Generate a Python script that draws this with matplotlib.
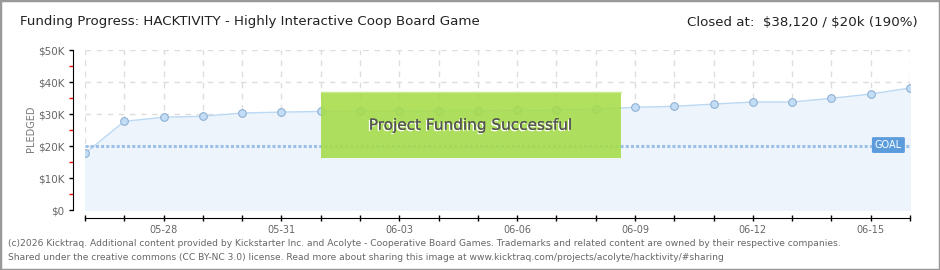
import matplotlib
matplotlib.use("Agg")
import matplotlib.pyplot as plt
import matplotlib.patheffects as pe
from matplotlib.patches import Rectangle

# --- data ---
dates = ["05-26", "05-27", "05-28", "05-29", "05-30", "05-31", "06-01", "06-02",
         "06-03", "06-04", "06-05", "06-06", "06-07", "06-08", "06-09", "06-10",
         "06-11", "06-12", "06-13", "06-14", "06-15", "06-16"]
pledged = [17700, 27700, 29000, 29300, 30300, 30600, 30800, 30900,
           30900, 31000, 31000, 31100, 31200, 31500, 32100, 32400,
           33100, 33750, 33750, 34900, 36250, 38120]
goal = 20000
y_ticks = [0, 10000, 20000, 30000, 40000, 50000]
y_labels = ["$0", "$10K", "$20K", "$30K", "$40K", "$50K"]
label_every = 3
first_label = 2

TITLE = "Funding Progress: HACKTIVITY - Highly Interactive Coop Board Game"
CLOSED = "Closed at:  \\$38,120 / \\$20k (190%)"
FOOTER1 = ("(c)2026 Kicktraq. Additional content provided by Kickstarter Inc. and Acolyte - "
           "Cooperative Board Games. Trademarks and related content are owned by their respective companies.")
FOOTER2 = ("Shared under the creative commons (CC BY-NC 3.0) license. Read more about sharing "
           "this image at www.kicktraq.com/projects/acolyte/hacktivity/#sharing")

W, H = 940, 270
fig = plt.figure(figsize=(W / 100, H / 100), dpi=100)
fig.patch.set_facecolor("white")
ax = fig.add_axes([85 / W, 1 - 210 / H, 825 / W, 160 / H])

x = list(range(len(dates)))

# grid
for v in y_ticks:
    ax.axhline(v, color="#dddddd", lw=1, dashes=(4, 4), zorder=0)
for i in x:
    ax.axvline(i, color="#dddddd", lw=1, dashes=(4, 4), zorder=0)

# area + line + points
ax.fill_between(x, 0, pledged, color="#edf4fc", zorder=1)
ax.plot(x, pledged, color="#bcd9f4", lw=1, zorder=2)
ax.plot(x, pledged, ls="none", marker="o", ms=5.5, mfc="#c3ddf6", mec="#8fb0d2",
        mew=0.8, zorder=4)

# goal line
ax.plot([x[0], x[-1]], [goal, goal], color="#9cc0e8", lw=2.2,
        linestyle=(0, (1.0, 0.7)), zorder=3)
ax.text(20.45, goal + 300, "GOAL", color="white", fontsize=7, ha="center", va="center",
        zorder=6,
        bbox=dict(boxstyle="round,pad=0.3,rounding_size=0.15", fc="#5c9cdc", ec="none"))

# success banner (semi-transparent, points show through)
ax.add_patch(Rectangle((6, 16300), 7.64, 20600, facecolor="#a6dc48", edgecolor="none",
                       alpha=0.88, zorder=5))
ax.plot([6, 13.64], [36800, 36800], color="#c6ea8c", lw=1, zorder=5)
ax.text(9.82, 26500, "Project Funding Successful", fontsize=11, color="#555555",
        ha="center", va="center", zorder=6,
        path_effects=[pe.withSimplePatchShadow(offset=(-1, -1), shadow_rgbFace="white",
                                               alpha=1), pe.Normal()])

# axes styling
ax.set_xlim(0, len(dates) - 1)
ax.set_ylim(0, 50000)
for s in ["top", "right"]:
    ax.spines[s].set_visible(False)
ax.spines["left"].set_position(("outward", 9))
ax.spines["bottom"].set_position(("outward", 6))

ax.set_yticks(y_ticks)
ax.set_yticklabels(y_labels)
ax.set_yticks([5000, 15000, 25000, 35000, 45000], minor=True)
ax.tick_params(axis="y", which="major", length=3, width=1, color="black",
               labelsize=7.5, labelcolor="#666666", pad=3)
ax.tick_params(axis="y", which="minor", length=3, width=1, color="red")
ax.set_xticks(x)
ax.set_xticklabels([d if (i - first_label) % label_every == 0 and i >= first_label else ""
                    for i, d in enumerate(dates)])
ax.tick_params(axis="x", length=5, width=1, direction="inout", color="black",
               labelsize=7, labelcolor="#666666", pad=2)

fig.text(31 / W, 1 - 129 / H, "PLEDGED", rotation=90, fontsize=7, color="#777777",
         ha="center", va="center")

# header / footer
fig.text(20 / W, 1 - 22 / H, TITLE, fontsize=9.6, color="#222222", ha="left",
         va="center")
fig.text(918 / W, 1 - 22 / H, CLOSED, fontsize=9.6, color="#222222", ha="right",
         va="center")
fig.text(8 / W, 1 - 243 / H, FOOTER1, fontsize=6.6, color="#666666", ha="left",
         va="center")
fig.text(8 / W, 1 - 257 / H, FOOTER2, fontsize=6.6, color="#666666", ha="left",
         va="center")

# outer border
fig.patches.append(Rectangle((0, 0), 1, 1, transform=fig.transFigure, fill=False,
                             edgecolor="#999999", lw=2.5))

fig.savefig("out.png", dpi=100)
